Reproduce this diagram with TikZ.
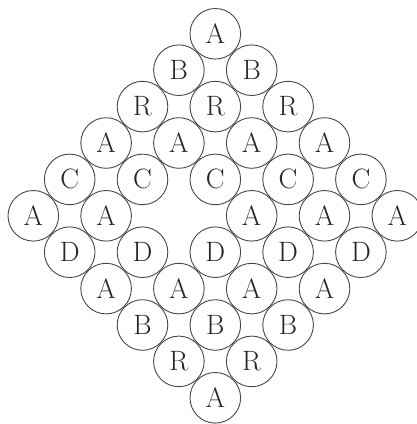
\documentclass[tikz,border=0pt]{standalone}
\usepackage{fontspec}
\begin{document}
\begin{tikzpicture}[x=1pt,y=1pt,
  cell/.style={circle,draw=black!72,line width=0.9pt,minimum size=50.6pt,inner sep=0pt,
    font=\fontsize{28}{30}\selectfont,text=black!85}]
\useasboundingbox (0,0) rectangle (416,-424);
\foreach \r/\l/\ks in {0/A/{0},1/B/{-1,1},2/R/{-2,0,2},3/A/{-3,-1,1,3},4/C/{-4,-2,0,2,4},
  5/A/{-5,-3,1,3,5},6/D/{-4,-2,0,2,4},7/A/{-3,-1,1,3},8/B/{-2,0,2},9/R/{-1,1},10/A/{0}}{
  \foreach \k in \ks {
    \node[cell] (n\r\k) at ({215.3+36.4*\k},{-(33.8+36.4*\r)}) {\l};
  }
}
\end{tikzpicture}
\end{document}
